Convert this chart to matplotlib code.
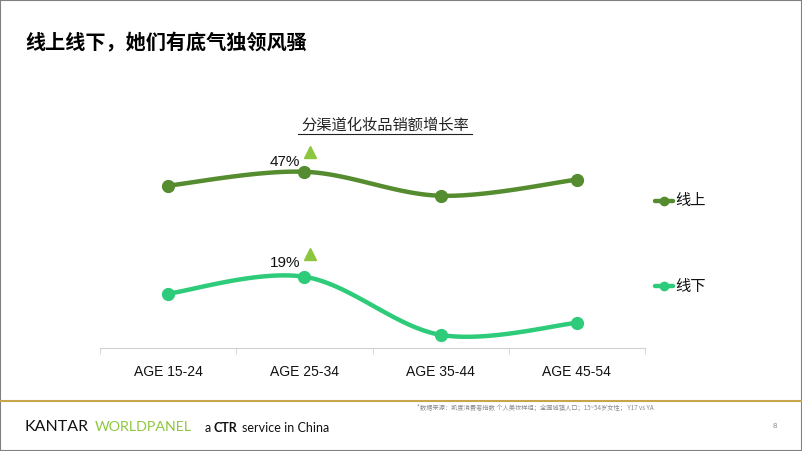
import numpy as np
import matplotlib
matplotlib.use('Agg')
import matplotlib.pyplot as plt
import matplotlib.transforms as mtransforms
from matplotlib.lines import Line2D
from matplotlib.patches import Rectangle

plt.rcParams['font.family'] = ['Liberation Sans', 'Noto Sans CJK SC', 'DejaVu Sans']

# datos
categorias = ['AGE 15-24', 'AGE 25-34', 'AGE 35-44', 'AGE 45-54']
linea_online = [43.3, 47.0, 40.6, 44.9]
linea_offline = [14.5, 19.0, 3.5, 6.7]
series = ['线上', '线下']
etiquetas = {'线上': '47%', '线下': '19%'}

verde_oscuro = '#558C2F'
verde_claro = '#2ECC7A'
verde_flecha = '#8CC63F'
CJK = ['Noto Sans CJK SC', 'DejaVu Sans']


def suavizar(xs, ys, pasos=30):
    """ Curva tipo Catmull-Rom que pasa por los puntos (linea suavizada) """
    xs = np.asarray(xs, float)
    ys = np.asarray(ys, float)
    px = np.concatenate([[xs[0]], xs, [xs[-1]]])
    py = np.concatenate([[ys[0]], ys, [ys[-1]]])
    out_x, out_y = [], []
    for i in range(1, len(px) - 2):
        t = np.linspace(0, 1, pasos)
        p0x, p1x, p2x, p3x = px[i - 1:i + 3]
        p0y, p1y, p2y, p3y = py[i - 1:i + 3]
        # puntos de control bezier
        c1x = p1x + (p2x - p0x) / 6
        c1y = p1y + (p2y - p0y) / 6
        c2x = p2x - (p3x - p1x) / 6
        c2y = p2y - (p3y - p1y) / 6
        bx = ((1 - t) ** 3 * p1x + 3 * (1 - t) ** 2 * t * c1x
              + 3 * (1 - t) * t ** 2 * c2x + t ** 3 * p2x)
        by = ((1 - t) ** 3 * p1y + 3 * (1 - t) ** 2 * t * c1y
              + 3 * (1 - t) * t ** 2 * c2y + t ** 3 * p2y)
        out_x.extend(bx)
        out_y.extend(by)
    return out_x, out_y


fig = plt.figure(figsize=(8.02, 4.51), dpi=100)
W, H = 802, 451

ax = fig.add_axes([100 / W, (H - 348) / H, 545 / W, 225 / H])
x = np.arange(len(categorias))

for nombre, valores, color in [('线上', linea_online, verde_oscuro),
                               ('线下', linea_offline, verde_claro)]:
    sx, sy = suavizar(x, valores)
    ax.plot(sx, sy, color=color, lw=3.2, solid_capstyle='round', zorder=2)
    ax.plot(x, valores, 'o', color=color, ms=8.5, zorder=3)
    # etiqueta del pico y flecha
    ax.annotate(etiquetas[nombre], (x[1], valores[1]),
                xytext=(-14, 7 if nombre == '线上' else 10),
                textcoords='offset points', ha='center', va='center',
                fontsize=11, color='#111111')
    desplazamiento = mtransforms.ScaledTranslation(
        6 / 100, (20 if nombre == '线上' else 23) / 100, fig.dpi_scale_trans)
    ax.plot([x[1]], [valores[1]], marker='^', ls='none', color=verde_flecha,
            ms=9, zorder=4, transform=ax.transData + desplazamiento)

ax.set_xlim(-0.5, len(categorias) - 0.5)
ax.set_ylim(0, 60)
ax.set_xticks(x)
ax.set_xticklabels(categorias, fontsize=10, color='#111111')
ax.set_xticks(np.arange(-0.5, len(categorias)), minor=True)
ax.tick_params(axis='x', which='major', length=0, pad=12)
ax.tick_params(axis='x', which='minor', length=4, color='#D0D0D0',
               direction='out')
ax.set_yticks([])
for s in ['top', 'right', 'left']:
    ax.spines[s].set_visible(False)
ax.spines['bottom'].set_color('#D0D0D0')
ax.patch.set_alpha(0)

# titulo de la pagina
fig.text(25 / W, 1 - 43 / H, '线上线下，她们有底气独领风骚', fontsize=14.5,
         fontweight='bold', va='center', ha='left', family=CJK)

# titulo del grafico, subrayado
fig.text(385 / W, 1 - 125 / H, '分渠道化妆品销额增长率', fontsize=11,
         va='center', ha='center', color='#222222', family=CJK)
fig.add_artist(Line2D([298 / W, 472 / W], [1 - 134 / H, 1 - 134 / H],
                      color='#222222', lw=0.8))

# leyenda manual
for nombre, color, yy in [('线上', verde_oscuro, 201), ('线下', verde_claro, 286)]:
    fig.add_artist(Line2D([655 / W, 673 / W], [1 - yy / H, 1 - yy / H],
                          color=color, lw=3.2, solid_capstyle='round'))
    fig.add_artist(Line2D([664 / W], [1 - yy / H], color=color, marker='o',
                          ms=6, ls='none'))
    fig.text(675 / W, 1 - yy / H, nombre, fontsize=11, va='center',
             ha='left', color='#111111', family=CJK)

# pie de pagina
fig.add_artist(Line2D([0, 1], [1 - 401 / H, 1 - 401 / H], color='#C8A54A',
                      lw=1.5))
fig.text(417 / W, 1 - 408 / H,
         '*数据来源：凯度消费者指数 个人美妆样组；全国城镇人口；15~54岁女性； Y17 vs YA',
         fontsize=4.5, color='#8A8A8A', va='center', ha='left', family=CJK)
fig.text(24 / W, 1 - 427 / H, 'KANTAR', fontsize=11.5, color='#111111',
         va='center', ha='left', family='Lato')
fig.text(95 / W, 1 - 427 / H, 'WORLDPANEL', fontsize=10.3, color='#8DC63F',
         va='center', ha='left', family='Lato')
fig.text(205 / W, 1 - 428 / H, 'a', fontsize=9, color='#111111',
         va='center', ha='left', family='Lato')
fig.text(214 / W, 1 - 428 / H, 'CTR', fontsize=9, color='#111111',
         va='center', ha='left', family='Lato', fontweight='bold')
fig.text(242 / W, 1 - 428 / H, 'service in China', fontsize=9,
         color='#111111', va='center', ha='left', family='Lato')
fig.text(775 / W, 1 - 426 / H, '8', fontsize=5.5, color='#8A8A8A',
         va='center', ha='center')

# marco de la diapositiva
fig.add_artist(Rectangle((0, 0), 1, 1, transform=fig.transFigure,
                         fill=False, edgecolor='#808080', lw=1.5))

fig.savefig('out.png', dpi=100)
